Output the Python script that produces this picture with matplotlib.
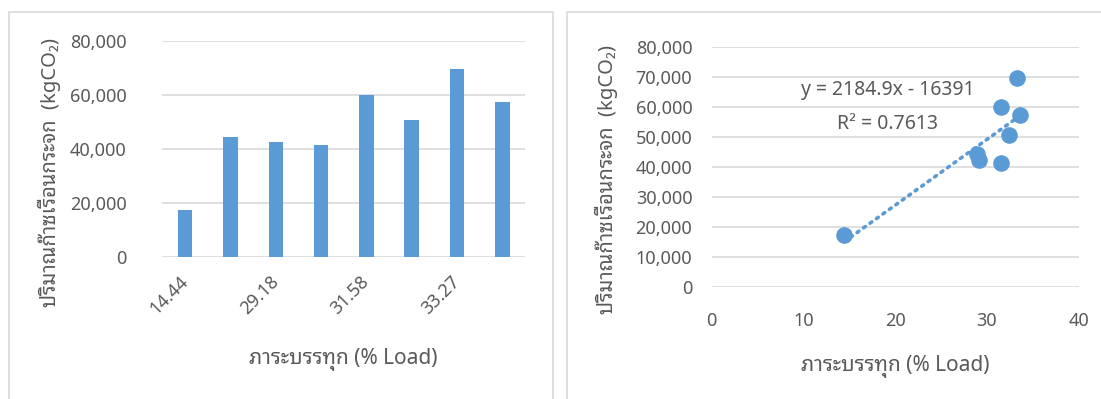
import numpy as np
import matplotlib.pyplot as plt
from matplotlib.patches import Rectangle

plt.rcParams['font.family'] = ['Noto Sans', 'Noto Sans Thai Looped', 'DejaVu Sans']

# data
load_pct = [14.44, 28.97, 29.18, 31.54, 31.58, 32.36, 33.27, 33.56]
ghg_kg = [17400, 44200, 42300, 41200, 59800, 50700, 69700, 57200]
cat_labels = ['14.44', '28.97', '29.18', '31.54', '31.58', '32.36', '33.27', '33.56']
slope, intercept = 2184.9, -16391
eq_text = 'y = 2184.9x - 16391'
r2_text = 'R² = 0.7613'
ylab = 'ปริมาณก๊าซเรือนกระจก  (kgCO₂)'
xlab = 'ภาระบรรทุก (% Load)'

blue = '#5B9BD5'
grey_txt = '#595959'
grid_c = '#D9D9D9'

W, H = 1101, 399
fig = plt.figure(figsize=(W / 100, H / 100), dpi=100)

# panel borders
fig.patches.append(Rectangle((9 / W, -0.05), 544 / W, 1.05 - 12 / H, transform=fig.transFigure,
                             fill=False, edgecolor='#D9D9D9', lw=1.2))
fig.patches.append(Rectangle((567 / W, -0.05), 600 / W, 1.05 - 12 / H, transform=fig.transFigure,
                             fill=False, edgecolor='#D9D9D9', lw=1.2))

def fmt(v, pos=None):
    return f'{int(v):,}'

# left: bar chart
ax1 = fig.add_axes([162.5 / W, 1 - 256.7 / H, 362.5 / W, 216 / H])
xpos = np.arange(len(ghg_kg))
ax1.bar(xpos, ghg_kg, width=0.32, color=blue, zorder=3)
ax1.set_xlim(-0.5, len(ghg_kg) - 0.5)
ax1.set_ylim(0, 80000)
ax1.set_yticks(np.arange(0, 80001, 20000))
ax1.yaxis.set_major_formatter(plt.FuncFormatter(fmt))
ax1.set_xticks(xpos[::2])
ax1.set_xticklabels(cat_labels[::2], rotation=45, ha='right', va='center',
                    rotation_mode='anchor')
ax1.grid(axis='y', color=grid_c, lw=1.2, zorder=0)
ax1.tick_params(length=0, labelsize=13, colors=grey_txt)
ax1.tick_params(axis='x', pad=16)
ax1.tick_params(axis='y', pad=26)
for s in ax1.spines.values():
    s.set_visible(False)
ax1.set_ylabel(ylab, fontsize=14.5, color=grey_txt, fontweight='bold')
ax1.yaxis.set_label_coords(-0.28, 0.39)
ax1.set_xlabel(xlab, fontsize=15, color=grey_txt, fontweight='bold', labelpad=22)

# right: scatter with linear trend
ax2 = fig.add_axes([711.8 / W, 1 - 287.3 / H, 366.8 / W, 240.6 / H])
ax2.scatter(load_pct, ghg_kg, s=120, color=blue, zorder=3)
xt = np.array([min(load_pct), max(load_pct)])
ax2.plot(xt, slope * xt + intercept, linestyle=(0, (0.6, 1.6)), color=blue, lw=2.6,
         dash_capstyle='round', zorder=4)
ax2.set_xlim(0, 40)
ax2.set_ylim(0, 80000)
ax2.set_xticks(np.arange(0, 41, 10))
ax2.set_yticks(np.arange(0, 80001, 10000))
ax2.yaxis.set_major_formatter(plt.FuncFormatter(fmt))
ax2.grid(axis='y', color=grid_c, lw=1.2, zorder=0)
ax2.tick_params(length=0, labelsize=13, colors=grey_txt)
ax2.tick_params(axis='x', pad=18)
ax2.tick_params(axis='y', pad=14)
for s in ax2.spines.values():
    s.set_visible(False)
ax2.set_ylabel(ylab, fontsize=14.5, color=grey_txt, fontweight='bold')
ax2.yaxis.set_label_coords(-0.257, 0.446)
ax2.set_xlabel(xlab, fontsize=15, color=grey_txt, fontweight='bold', labelpad=18)
ax2.text(19.2, 65600, eq_text, fontsize=14, color=grey_txt, ha='center', va='center')
ax2.text(19.2, 54300, r2_text, fontsize=14, color=grey_txt, ha='center', va='center')

fig.savefig('out.png', dpi=100)
